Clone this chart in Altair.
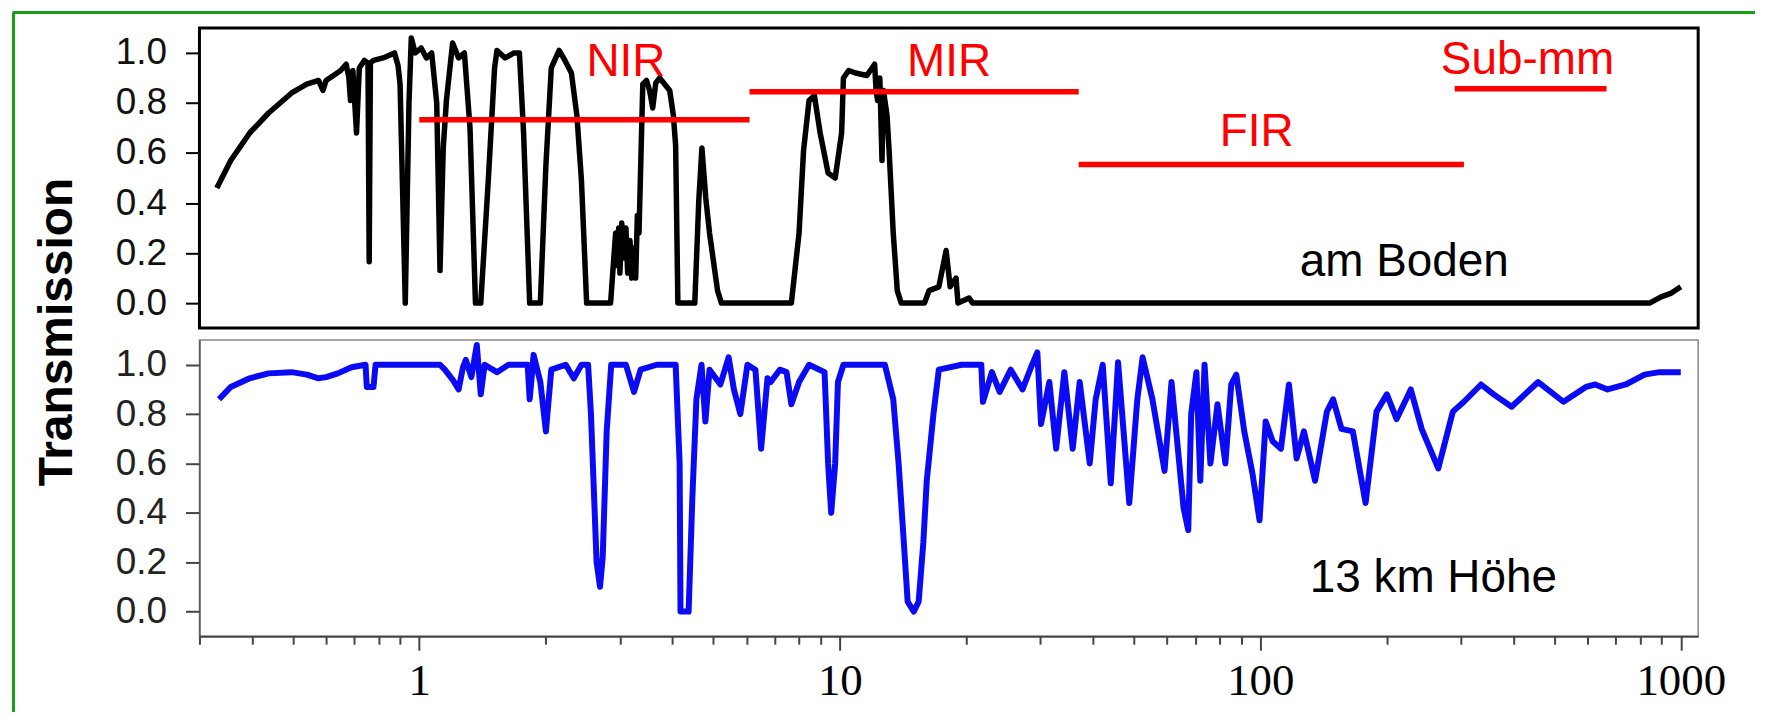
import altair as alt
import pandas as pd

# ---------------- data ----------------
# Transmission at ground level ("am Boden")
ground_wl = [0.33, 0.356, 0.395, 0.438, 0.497, 0.54, 0.576, 0.59, 0.60, 0.625, 0.65, 0.67, 0.68, 0.686, 0.695,
             0.709, 0.72, 0.74, 0.755, 0.76, 0.765, 0.778, 0.82, 0.873, 0.89, 0.90, 0.926, 0.945, 0.957, 0.978,
             1.01, 1.04, 1.07, 1.10, 1.12, 1.14, 1.16, 1.2, 1.24, 1.28, 1.32, 1.36, 1.40, 1.46, 1.51, 1.53, 1.6,
             1.68, 1.73, 1.77, 1.83, 1.94, 2.0, 2.06, 2.15, 2.22, 2.3, 2.37, 2.43, 2.5, 2.85, 2.93, 2.95, 2.98,
             3.0, 3.03, 3.06, 3.1, 3.13, 3.17, 3.2, 3.24, 3.27, 3.3, 3.33, 3.4, 3.47, 3.53, 3.59, 3.65, 3.73,
             3.94, 4.02, 4.07, 4.12, 4.52, 4.62, 4.7, 4.8, 4.9, 5.12, 5.23, 7.67, 8.0, 8.2, 8.45, 8.7, 8.98,
             9.38, 9.75, 10.1, 10.2, 10.5, 10.9, 11.6, 12.1, 12.2, 12.3, 12.45, 12.6, 12.7, 12.8, 12.95, 13.1,
             13.2, 13.4, 13.7, 14.0, 15.9, 16.3, 17.2, 17.9, 18.3, 18.9, 19.1, 20.3, 20.7, 843, 898, 950, 1000]
ground_t = [0.46, 0.57, 0.68, 0.76, 0.84, 0.875, 0.89, 0.85, 0.89, 0.91, 0.93, 0.955, 0.90, 0.81, 0.93,
            0.68, 0.94, 0.97, 0.96, 0.165, 0.96, 0.97, 0.98, 1.0, 0.95, 0.875, 0.0, 0.80, 1.06, 1.0,
            1.02, 0.98, 1.0, 0.80, 0.13, 0.62, 0.81, 1.04, 0.98, 1.0, 0.70, 0.0, 0.0, 0.50, 0.94, 1.01, 0.98,
            1.0, 1.0, 0.68, 0.0, 0.0, 0.55, 0.94, 1.01, 0.97, 0.92, 0.75, 0.49, 0.0, 0.0, 0.28, 0.15, 0.30,
            0.12, 0.32, 0.18, 0.30, 0.12, 0.25, 0.10, 0.22, 0.10, 0.35, 0.28, 0.875, 0.89, 0.85, 0.78, 0.88, 0.90,
            0.85, 0.75, 0.63, 0.0, 0.0, 0.41, 0.62, 0.42, 0.28, 0.05, 0.0, 0.0, 0.28, 0.61, 0.81, 0.83, 0.68,
            0.52, 0.50, 0.68, 0.90, 0.93, 0.92, 0.91, 0.955, 0.85, 0.81, 0.90, 0.57, 0.85, 0.81, 0.75, 0.61,
            0.50, 0.28, 0.05, 0.0, 0.0, 0.05, 0.065, 0.21, 0.065, 0.10, 0.0, 0.02, 0.0, 0.0, 0.025, 0.04, 0.065]

# Transmission at 13 km altitude ("13 km Höhe")
high_wl = [0.334, 0.356, 0.395, 0.438, 0.497, 0.54, 0.576, 0.6, 0.64, 0.69, 0.745, 0.75, 0.778, 0.787, 1.12,
           1.15, 1.2, 1.24, 1.27, 1.29, 1.33, 1.37, 1.4, 1.43, 1.53, 1.63, 1.81, 1.83, 1.87, 1.94, 2.0, 2.06,
           2.23, 2.33, 2.43, 2.52, 2.56, 2.64, 2.69, 2.73, 2.79, 2.86, 3.1, 3.24, 3.36, 3.67, 4.07, 4.16, 4.18,
           4.37, 4.46, 4.56, 4.69, 4.79, 4.9, 5.2, 5.44, 5.6, 5.8, 6.03, 6.3, 6.5, 6.73, 6.85, 7.2, 7.47, 7.67,
           8.0, 8.45, 9.2, 9.38, 9.54, 9.75, 9.9, 10.2, 12.8, 13.4, 13.8, 14.2, 14.5, 15.0, 15.4, 15.8, 16.1,
           16.7, 17.2, 19.5, 21.7, 21.9, 23.0, 24.0, 25.5, 27.2, 28.5, 29.5, 30.1, 31.5, 32.7, 34.2, 35.8,
           37.2, 39.3, 40.6, 42.2, 44.1, 45.9, 48.8, 51.0, 52.5, 55.4, 59.2, 61.5, 63.1, 65.7, 67.4, 68.5,
           70.5, 72.0, 73.7, 76.1, 79.1, 82.6, 85.3, 87.7, 91.6, 95.8, 99.6, 103, 107, 112, 117, 122, 127,
           135, 144, 149, 156, 166, 178, 189, 200, 211, 228, 242, 265, 287, 305, 335, 359, 396, 458, 526,
           595, 626, 670, 740, 820, 890, 1000]
high_t = [0.86, 0.91, 0.945, 0.965, 0.97, 0.96, 0.945, 0.95, 0.965, 0.99, 1.0, 0.91, 0.91, 1.0, 1.0,
          0.98, 0.94, 0.90, 0.99, 1.02, 0.95, 1.08, 0.88, 1.0, 0.97, 1.0, 1.0, 0.86, 1.04, 0.93, 0.73, 0.98,
          1.0, 0.945, 1.0, 1.0, 0.80, 0.20, 0.10, 0.22, 0.73, 1.0, 1.0, 0.89, 0.98, 1.0, 1.0, 0.60, 0.0,
          0.0, 0.46, 0.86, 1.0, 0.77, 0.98, 0.92, 1.03, 0.90, 0.80, 1.0, 0.98, 0.66, 0.945, 0.93, 0.98, 0.97, 0.84,
          0.93, 1.0, 0.97, 0.60, 0.40, 0.60, 0.93, 1.0, 1.0, 0.86, 0.60, 0.28, 0.04, 0.0, 0.04, 0.28, 0.53,
          0.80, 0.98, 1.0, 1.0, 0.85, 0.97, 0.89, 0.98, 0.90, 0.99, 1.05, 0.76, 0.93, 0.66, 0.97, 0.66,
          0.93, 0.60, 0.86, 1.0, 0.52, 1.01, 0.44, 0.86, 1.03, 0.86, 0.57, 0.93, 0.73, 0.42, 0.33, 0.80,
          0.97, 0.53, 1.0, 0.60, 0.84, 0.60, 0.92, 0.96, 0.73, 0.56, 0.37, 0.77, 0.69, 0.66, 0.92, 0.62, 0.73,
          0.53, 0.81, 0.86, 0.74, 0.73, 0.44, 0.81, 0.88, 0.78, 0.90, 0.74, 0.58, 0.81, 0.85, 0.92, 0.88, 0.83, 0.93, 0.85,
          0.91, 0.92, 0.90, 0.92, 0.96, 0.97, 0.97]

# spectral bands (red bars and labels, top panel)
band_names = ["NIR", "MIR", "FIR", "Sub-mm"]
band_start = [1.0, 6.1, 37.0, 290.0]
band_end = [6.1, 37.0, 305.0, 666.0]
band_level = [0.733, 0.845, 0.554, 0.857]
band_label_x = [3.1, 18.2, 98.0, 432.0]
band_label_y = [0.908, 0.908, 0.63, 0.916]

panel_labels = ["am Boden", "13 km Höhe"]
panel_label_x = [220.0, 258.0]
panel_label_y = [0.11, 0.08]

y_title = ["Transmission"]
y_ticks = [0.0, 0.2, 0.4, 0.6, 0.8, 1.0]
x_major = [1, 10, 100, 1000]
x_ticks = [0.3, 0.4, 0.5, 0.6, 0.7, 0.8, 0.9, 1, 2, 3, 4, 5, 6, 7, 8, 9, 10, 20, 30, 40, 50, 60, 70, 80, 90,
           100, 200, 300, 400, 500, 600, 700, 800, 900, 1000]

# ---------------- chart ----------------
W = 1503
H1 = 301
H2 = 297
GREEN = "#16a016"

xscale = alt.Scale(type="log", domain=[0.3, 1100], nice=False)
yscale = alt.Scale(domain=[-0.1, 1.1], nice=False, zero=False)

ground = pd.DataFrame({"wl": ground_wl, "t": ground_t, "i": list(range(len(ground_wl)))})
high = pd.DataFrame({"wl": high_wl, "t": high_t, "i": list(range(len(high_wl)))})
bands = pd.DataFrame({"name": band_names, "wl": band_start, "wl2": band_end, "t": band_level,
                      "lx": band_label_x, "ly": band_label_y})
plabels = pd.DataFrame({"text": panel_labels, "wl": panel_label_x, "t": panel_label_y})
one = pd.DataFrame({"text": y_title})

major_test = "indexof([" + ",".join(str(v) for v in x_major) + "], datum.value) >= 0"


def y_axis(tick_color, label_color, domain):
    kw = dict(values=y_ticks, format=".1f", title=None, grid=False, tickSize=14, tickWidth=2,
              tickColor=tick_color, labelFont="Liberation Sans", labelFontSize=37,
              labelColor=label_color, labelPadding=19)
    if domain:
        kw.update(domain=True, domainColor="#555", domainWidth=1.5)
    else:
        kw.update(domain=False)
    return alt.Axis(**kw)


top_x_axis = alt.Axis(labels=False, ticks=False, domain=False, grid=False, title=None)
top_y_axis = y_axis("black", "#111", False)

# top panel: ground level
top_line = alt.Chart(ground).mark_line(color="black", strokeWidth=5.5, strokeJoin="round").encode(
    x=alt.X("wl:Q", scale=xscale, axis=top_x_axis),
    y=alt.Y("t:Q", scale=yscale, axis=top_y_axis),
    order="i:Q",
)
band_rules = alt.Chart(bands).mark_rule(color="#ff0000", strokeWidth=5.5).encode(
    x=alt.X("wl:Q", scale=xscale, axis=top_x_axis), x2="wl2:Q",
    y=alt.Y("t:Q", scale=yscale, axis=top_y_axis),
)
band_text = alt.Chart(bands).mark_text(color="#ff0000", fontSize=46, font="Liberation Sans",
                                       align="center", baseline="alphabetic").encode(
    x=alt.X("lx:Q", scale=xscale, axis=top_x_axis),
    y=alt.Y("ly:Q", scale=yscale, axis=top_y_axis),
    text="name:N",
)
top_label = alt.Chart(plabels.iloc[[0]]).mark_text(color="black", fontSize=46, font="Liberation Sans",
                                                   align="center", baseline="alphabetic").encode(
    x=alt.X("wl:Q", scale=xscale, axis=top_x_axis),
    y=alt.Y("t:Q", scale=yscale, axis=top_y_axis),
    text="text:N",
)
ytitle = alt.Chart(one).mark_text(angle=270, fontSize=48, fontWeight="bold", font="Liberation Sans",
                                  color="black", align="center", baseline="middle").encode(
    x=alt.value(-142), y=alt.value(305), text="text:N"
)
green_top = alt.Chart(one).mark_rule(color=GREEN, strokeWidth=3).encode(
    x=alt.value(-187.5), x2=alt.value(1560), y=alt.value(-15.5)
)
green_left = alt.Chart(one).mark_rule(color=GREEN, strokeWidth=3).encode(
    x=alt.value(-186.5), y=alt.value(-15.5), y2=alt.value(686)
)

top = alt.layer(top_line, band_rules, band_text, top_label, ytitle, green_top, green_left).properties(
    width=W, height=H1, view=alt.ViewBackground(stroke="black", strokeWidth=3)
)

# bottom panel: 13 km altitude
bottom_x_axis = alt.Axis(
    values=x_ticks, title=None, grid=False,
    labelExpr=f"{major_test} ? format(datum.value, 'd') : ''",
    tickSize={"condition": {"test": major_test, "value": 14}, "value": 8},
    tickWidth=2, tickColor="#444", domainColor="#444", domainWidth=2,
    labelFont="Liberation Serif", labelFontSize=45, labelColor="black", labelPadding=8,
    labelOverlap=False, labelFlush=False, labelBound=False,
)
bottom_y_axis = y_axis("#444", "#222", True)

bottom_line = alt.Chart(high).mark_line(color="#0a0af5", strokeWidth=6, strokeJoin="round").encode(
    x=alt.X("wl:Q", scale=xscale, axis=bottom_x_axis),
    y=alt.Y("t:Q", scale=yscale, axis=bottom_y_axis),
    order="i:Q",
)
bottom_label = alt.Chart(plabels.iloc[[1]]).mark_text(color="black", fontSize=46, font="Liberation Sans",
                                                      align="center", baseline="alphabetic").encode(
    x=alt.X("wl:Q", scale=xscale, axis=bottom_x_axis),
    y=alt.Y("t:Q", scale=yscale, axis=bottom_y_axis),
    text="text:N",
)
bottom = alt.layer(bottom_line, bottom_label).properties(
    width=W, height=H2, view=alt.ViewBackground(stroke="#888", strokeWidth=1.5)
)

chart = alt.vconcat(top, bottom, spacing=12).properties(
    bounds="flush",
    padding={"left": 1, "top": 0, "right": 0, "bottom": 0},
    background="white",
)

chart.save("out.html", embed_options={"renderer": "svg", "actions": False})
